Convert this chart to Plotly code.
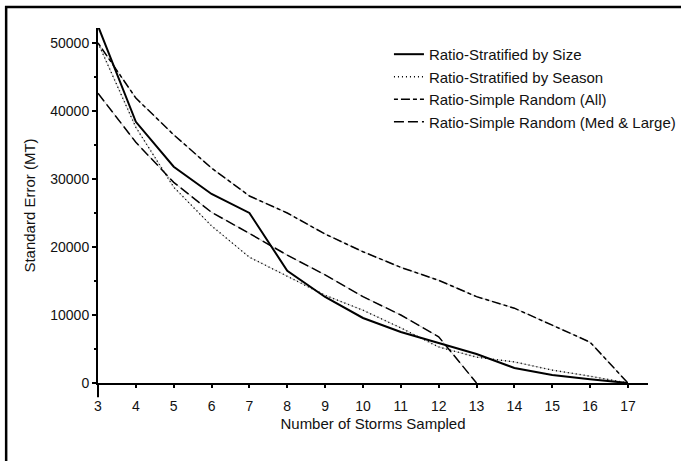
import plotly.graph_objects as go

x_vals = list(range(3, 18))

by_size = [52500, 38400, 31800, 27800, 25000, 16500, 12650, 9560, 7500, 5900, 4260, 2200, 1180, 540, 0]
by_season = [50000, 37600, 28800, 23100, 18500, 15700, 12900, 10700, 8100, 5300, 3800, 3100, 1900, 1000, 0]
simple_all = [50000, 41900, 36500, 31600, 27500, 25000, 21900, 19300, 17000, 15100, 12700, 11000, 8500, 6000, 0]
med_large_x = list(range(3, 14))
med_large = [42600, 35400, 29500, 25100, 22000, 18800, 15900, 12700, 10000, 6800, 0]

names = ["Ratio-Stratified by Size", "Ratio-Stratified by Season",
         "Ratio-Simple Random (All)", "Ratio-Simple Random (Med & Large)"]

y_ticks = [0, 10000, 20000, 30000, 40000, 50000]
x_ticks = list(range(3, 18))

fig = go.Figure()

# faint grey underlays (as in the original rendering of the broken lines)
for xs, ys in [(x_vals, by_season), (x_vals, simple_all), (med_large_x, med_large)]:
    fig.add_trace(go.Scatter(x=xs, y=ys, mode="lines", showlegend=False, hoverinfo="skip",
                             line=dict(color="#c8c8c8", width=1)))

fig.add_trace(go.Scatter(x=x_vals, y=by_size, mode="lines", name=names[0],
                         line=dict(color="black", width=2)))
fig.add_trace(go.Scatter(x=x_vals, y=by_season, mode="lines", name=names[1],
                         line=dict(color="black", width=1.4, dash="1px,3px")))
fig.add_trace(go.Scatter(x=x_vals, y=simple_all, mode="lines", name=names[2],
                         line=dict(color="black", width=1.5, dash="4px,3px,9px,3px")))
fig.add_trace(go.Scatter(x=med_large_x, y=med_large, mode="lines", name=names[3],
                         line=dict(color="black", width=1.5, dash="10px,4px")))

fam = "Liberation Sans, Arial, sans-serif"
txt = "#111111"

fig.update_layout(
    width=681, height=461,
    margin=dict(l=98, r=33, t=28, b=78, autoexpand=False),
    paper_bgcolor="white", plot_bgcolor="white",
    font=dict(family=fam, size=14, color=txt),
    showlegend=True,
    legend=dict(x=0.529, y=0.972, xanchor="left", yanchor="top",
                bgcolor="rgba(0,0,0,0)", font=dict(size=15, family=fam, color=txt),
                tracegroupgap=0, itemwidth=30),
    xaxis=dict(range=[3, 17.53], tickmode="array", tickvals=x_ticks,
               ticktext=[str(v) for v in x_ticks],
               tickfont=dict(size=14, family=fam, color=txt),
               ticklabelstandoff=6,
               showgrid=False, zeroline=False, showline=True, linecolor="black", linewidth=2,
               ticks="outside", ticklen=3, tickwidth=1.5, tickcolor="black",
               title=dict(text="Number of Storms Sampled", standoff=6,
                          font=dict(size=15, family=fam, color=txt)),
               ),
    yaxis=dict(range=[0, 52200], tickmode="array", tickvals=y_ticks,
               ticktext=[str(v) for v in y_ticks],
               tickfont=dict(size=14, family=fam, color=txt),
               showgrid=False, zeroline=False, showline=True, linecolor="black", linewidth=2,
               ticks="outside", ticklen=4, tickwidth=1.5, tickcolor="black",
               minor=dict(dtick=5000, ticks="outside", ticklen=2, tickwidth=1.5, tickcolor="black"),
               title=dict(text="Standard Error (MT)", standoff=11,
                          font=dict(size=15, family=fam, color=txt)),
               ),
    shapes=[
        # outer frame (top and left borders)
        dict(type="rect", xref="paper", yref="paper", x0=-0.167, x1=1.5, y0=-0.6, y1=1.059,
             line=dict(color="black", width=2.5), fillcolor="rgba(0,0,0,0)", layer="above"),
        # y axis extension below the x axis
        dict(type="line", xref="paper", yref="paper", x0=0, x1=0, y0=0, y1=-0.04,
             line=dict(color="black", width=2)),
    ],
)

fig.write_html("out.html")
